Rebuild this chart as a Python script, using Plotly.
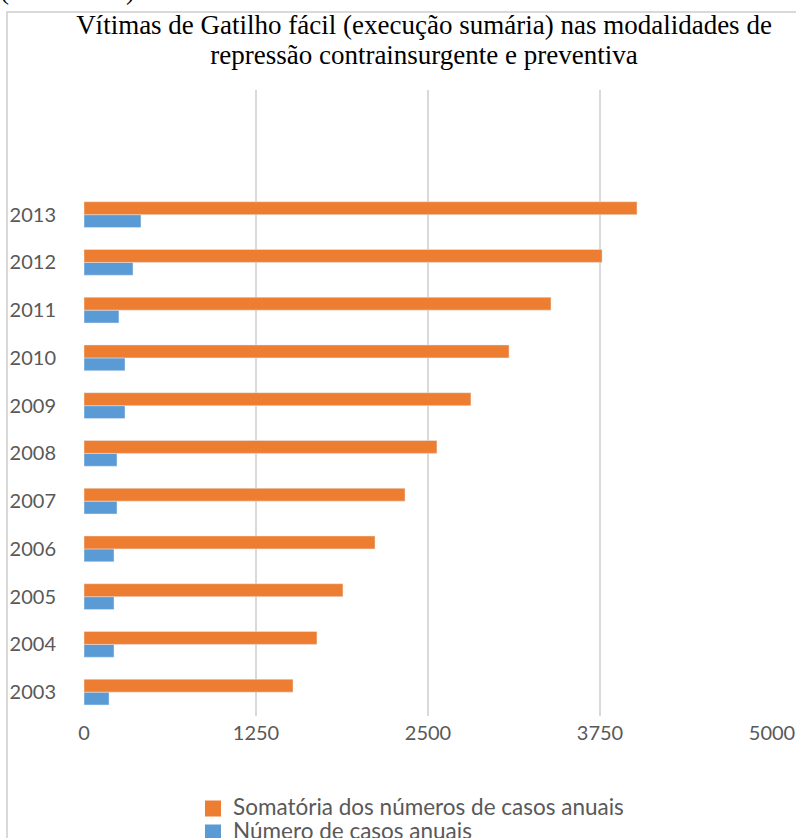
import plotly.graph_objects as go

years = ["2003", "2004", "2005", "2006", "2007", "2008", "2009", "2010", "2011", "2012", "2013"]
casos_anuais = [182, 218, 218, 218, 240, 240, 298, 298, 254, 356, 414]
somatoria = [1519, 1693, 1882, 2115, 2333, 2565, 2812, 3089, 3394, 3765, 4019]
x_ticks = [0, 1250, 2500, 3750, 5000]

name_sum = "Somatória dos números de casos anuais"
name_ann = "Número de casos anuais"
title_lines = ["Vítimas de Gatilho fácil (execução sumária) nas modalidades de",
               "repressão contrainsurgente e preventiva"]
caption = "(2003-2013)"
c_orange = "#ED7D31"
c_blue = "#5B9BD5"

W, H = 796, 838
ML, MR, MT, MB = 84, 24, 90, 122
PW = W - ML - MR
PH = H - MT - MB

def px_x(p):
    return (p - ML) / PW

def px_y(p):
    return (H - MB - p) / PH

fig = go.Figure()
fig.add_trace(go.Bar(y=years, x=casos_anuais, orientation="h", name=name_ann,
                     marker_color=c_blue, showlegend=False))
fig.add_trace(go.Bar(y=years, x=somatoria, orientation="h", name=name_sum,
                     marker_color=c_orange, showlegend=False))
# legend entries
leg_span = '<span style="font-size:22.5px">{}</span>'
fig.add_trace(go.Scatter(x=[None], y=[None], mode="markers", name=leg_span.format(name_sum),
                         marker=dict(symbol="square", size=16, color=c_orange)))
fig.add_trace(go.Scatter(x=[None], y=[None], mode="markers", name=leg_span.format(name_ann),
                         marker=dict(symbol="square", size=16, color=c_blue)))

tick_font = dict(family="Lato", size=20, color="#595959")
title_span = '<span style="font-size:27px">{}</span>'

fig.update_layout(
    width=W, height=H,
    margin=dict(l=ML, r=MR, t=MT, b=MB, autoexpand=False),
    paper_bgcolor="white", plot_bgcolor="white",
    barmode="group", bargap=0.46, bargroupgap=0,
    title=dict(
        text="<br>".join(title_span.format(t) for t in title_lines),
        font=dict(family="Liberation Serif", size=23, color="#000000"),
        x=424 / W, xanchor="center", xref="container",
        y=1 - 34 / H, yanchor="top", yref="container",
    ),
    xaxis=dict(range=[0, 5000], tickvals=x_ticks, ticktext=[str(v) for v in x_ticks],
               showgrid=True, gridcolor="#d9d9d9", gridwidth=2,
               zeroline=False, showline=False, ticks="", tickfont=tick_font,
               ticklabelstandoff=3, automargin=False),
    yaxis=dict(type="category", categoryorder="array", categoryarray=years,
               range=[-0.5, 12.61], showgrid=False, zeroline=False, showline=False,
               ticks="", tickfont=tick_font, ticklabelstandoff=27, automargin=False),
    legend=dict(x=px_x(193), y=px_y(791.5), xanchor="left", yanchor="top",
                font=dict(family="Lato", size=16.2, color="#595959"),
                bgcolor="rgba(0,0,0,0)", traceorder="normal"),
    showlegend=True,
)

# outer chart border
fig.add_shape(type="rect", xref="paper", yref="paper",
              x0=px_x(7), x1=px_x(810), y0=px_y(850), y1=px_y(12),
              line=dict(color="#d9d9d9", width=2), fillcolor="rgba(0,0,0,0)", layer="above")

# partially visible caption above the chart
fig.add_annotation(text=caption, xref="paper", yref="paper",
                   x=px_x(-2), y=px_y(-10), xanchor="left", yanchor="middle",
                   showarrow=False,
                   font=dict(family="Liberation Serif", size=27, color="#000000"))

# page without the default body margin so the figure starts at the window corner
fig.write_html("out.html", config={"displayModeBar": False},
               post_script="document.body.style.margin='0px';")
